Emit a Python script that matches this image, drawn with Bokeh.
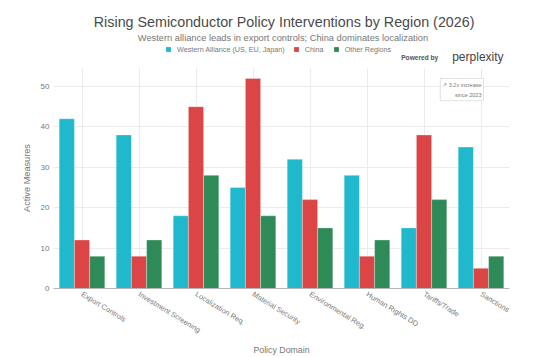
import numpy as np
from bokeh.plotting import figure
from bokeh.layouts import column
from bokeh.models import Range1d, FixedTicker, Label, Legend, LegendItem
from bokeh.embed import file_html
from bokeh.resources import INLINE

categories = ["Export Controls", "Investment Screening", "Localization Req.", "Material Security",
              "Environmental Reg.", "Human Rights DD", "Tariffs/Trade", "Sanctions"]
western = [42, 38, 18, 25, 32, 28, 15, 35]
china = [12, 8, 45, 52, 22, 8, 38, 5]
other = [8, 12, 28, 18, 15, 12, 22, 8]
series_names = ["Western Alliance (US, EU, Japan)", "China", "Other Regions"]
colors = ["#1FB8CD", "#DB4545", "#2E8B57"]
y_ticks = [0, 10, 20, 30, 40, 50]

FONT = "Liberation Sans"
W, H_HEAD, H_MAIN = 536, 67, 290
BL, BR = 53, 27          # left / right borders shared by both stacked figures
idx = np.arange(len(categories))
bw = 0.8 / 3
series = [western, china, other]

# ---------- header (title, subtitle, legend, branding) ----------
head = figure(width=W, height=H_HEAD, output_backend="svg", toolbar_location=None,
              x_range=Range1d(BL, W - BR), y_range=Range1d(H_HEAD, 0),
              x_axis_type=None, y_axis_type=None,
              min_border_left=BL, min_border_right=BR, min_border_top=0, min_border_bottom=0)
head.outline_line_color = None
head.grid.visible = False


def hlab(text, x, y, size, color, style="normal"):
    head.add_layout(Label(text=text, x=x, y=y, text_font=FONT, text_font_size=size,
                          text_color=color, text_align="left", text_baseline="middle",
                          text_font_style=style))


hlab("Rising Semiconductor Policy Interventions by Region (2026)", 93.3, 21.5, "14.3px", "#4a4a4a")
hlab("Western alliance leads in export controls; China dominates localization", 137.3, 37.8, "9.3px", "#777777")
hlab("Powered by", 400.7, 57.3, "6.6px", "#555555", style="bold")
hlab("perplexity", 451.7, 56.3, "12px", "#444444")

# legend swatches: hidden copies of the series renderers (header only shows legend)
legend_glyphs = [head.vbar(x=idx, top=vals, width=bw, fill_color=c, line_color=None, visible=False)
                 for vals, c in zip(series, colors)]
legend = Legend(items=[LegendItem(label=n, renderers=[r]) for n, r in zip(series_names, legend_glyphs)],
                orientation="horizontal", location=(112, 13.5),
                background_fill_alpha=0, border_line_color=None,
                glyph_width=6, glyph_height=6, label_height=8,
                label_text_font=FONT, label_text_font_size="7.2px", label_text_color="#777777",
                label_standoff=6, spacing=8, padding=0, margin=0)
head.add_layout(legend)

# ---------- main chart ----------
p = figure(width=W, height=H_MAIN, output_backend="svg", toolbar_location=None,
           x_range=Range1d(-0.5, len(categories) - 0.5), y_range=Range1d(0, 54.7),
           min_border_left=BL, min_border_right=BR, min_border_top=0, min_border_bottom=69)
p.outline_line_color = None

for k, (vals, col) in enumerate(zip(series, colors)):
    p.vbar(x=idx + (k - 1) * bw, top=vals, width=bw, fill_color=col,
           line_color="white", line_width=0.6, line_alpha=0.5)

xa = p.xaxis[0]
xa.ticker = FixedTicker(ticks=list(idx))
xa.major_label_overrides = {int(i): c for i, c in zip(idx, categories)}
xa.major_label_orientation = -0.55
xa.major_label_text_font = FONT
xa.major_label_text_font_size = "7.4px"
xa.major_label_text_color = "#777777"
xa.major_label_standoff = 5
xa.major_tick_line_color = None
xa.major_tick_out = 0
xa.major_tick_in = 0
xa.minor_tick_line_color = None
xa.minor_tick_out = 0
xa.axis_line_color = "#b5b5b5"
xa.axis_label = "Policy Domain"
xa.axis_label_text_font = FONT
xa.axis_label_text_font_style = "normal"
xa.axis_label_text_font_size = "8.8px"
xa.axis_label_text_color = "#777777"
xa.axis_label_standoff = 3

ya = p.yaxis[0]
ya.ticker = FixedTicker(ticks=y_ticks)
ya.major_label_text_font = FONT
ya.major_label_text_font_size = "8px"
ya.major_label_text_color = "#777777"
ya.major_label_standoff = 4
ya.major_tick_line_color = None
ya.major_tick_out = 0
ya.major_tick_in = 0
ya.minor_tick_line_color = None
ya.minor_tick_out = 0
ya.axis_line_color = None
ya.axis_label = "Active Measures"
ya.axis_label_text_font = FONT
ya.axis_label_text_font_style = "normal"
ya.axis_label_text_font_size = "9.2px"
ya.axis_label_text_color = "#777777"
ya.axis_label_standoff = 6

p.xgrid.grid_line_color = "#ebebeb"
p.ygrid.grid_line_color = "#ebebeb"

p.add_layout(Label(text="\u2197 3.2x increase\nsince 2023", x=430, y=210,
                   x_units="screen", y_units="screen", text_font=FONT, text_font_size="5.5px",
                   text_color="#777777", text_align="right", text_baseline="top",
                   text_line_height=1.7, border_line_color="#d9d9d9", border_line_width=0.8,
                   background_fill_color="white", padding=(2, 3)))

layout = column(head, p, spacing=0)
open("out.html", "w").write(file_html(layout, INLINE))
